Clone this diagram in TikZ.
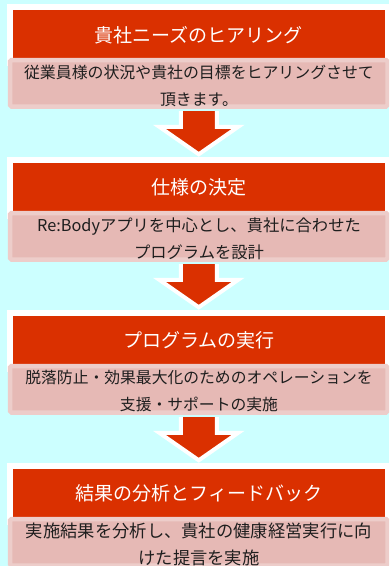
\documentclass[tikz,border=0pt]{standalone}
\usepackage{fontspec}
\newfontfamily\jp{Noto Sans CJK JP}
\usetikzlibrary{calc}
\definecolor{bgc}{RGB}{204,255,255}
\definecolor{hred}{RGB}{218,48,0}
\definecolor{pinkin}{RGB}{230,185,181}
\definecolor{pinkout}{RGB}{237,205,202}
\definecolor{txt}{RGB}{30,30,30}
\begin{document}
\begin{tikzpicture}[x=1pt,y=-1pt,
  header/.style={rectangle, fill=hred, draw=white, line width=5.5pt,
    minimum width=377.5pt, minimum height=56pt, inner sep=0pt,
    text=white, font=\jp\fontsize{19}{19}\selectfont},
  bodybox/.style={rectangle, fill=pinkin, draw=pinkout, line width=4.5pt,
    rounded corners=1.5pt, minimum width=377.5pt, minimum height=46.5pt, inner sep=0pt},
  bodytext/.style={align=center, inner sep=0pt, text=txt},
  arrowfill/.style={fill=hred},
  arrowline/.style={draw=white, line width=4pt, line join=miter, miter limit=10}]
\useasboundingbox (0,0) rectangle (389,566);
\clip (0,0) rectangle (389,566);
\fill[bgc] (0,0) rectangle (389,566);

% step 1 (top 4)
\node[header] (h1) at (198.75,34.75) {貴社ニーズのヒアリング};
\node[bodybox] (b1) at (198.75,83.25) {};
\node[bodytext, font=\jp\fontsize{15.9}{27}\selectfont] (t1) at (199,85.5)
  {従業員様の状況や貴社の目標をヒアリングさせて\\頂きます。};

% step 2 (top 157)
\node[header] (h2) at (198.75,187.75) {仕様の決定};
\node[bodybox] (b2) at (198.75,236.25) {};
\node[bodytext, font=\jp\fontsize{16.3}{27}\selectfont] (t2) at (199,238.5)
  {Re:Bodyアプリを中心とし、貴社に合わせた\\プログラムを設計};

% step 3 (top 310)
\node[header] (h3) at (198.75,340.75) {プログラムの実行};
\node[bodybox] (b3) at (198.75,389.25) {};
\node[bodytext, font=\jp\fontsize{15.8}{27}\selectfont] (t3) at (199,391.5)
  {脱落防止・効果最大化のためのオペレーションを\\支援・サポートの実施};

% step 4 (top 463)
\node[header] (h4) at (198.75,493.75) {結果の分析とフィードバック};
\node[bodybox] (b4) at (198.75,542.25) {};
\node[bodytext, font=\jp\fontsize{17.3}{27}\selectfont] (t4) at (199,544.5)
  {実施結果を分析し、貴社の健康経営実行に向\\けた提言を実施};

% block arrows
\foreach \a/\b in {b1/h2, b2/h3, b3/h4}{
  \fill[arrowfill] ($(\a.south)+(-18,2.3)$) -- ($(\a.south)+(-18,18)$)
    -- ($(\a.south)+(-39.5,18)$) -- ($(\b.north)+(0,-2.75)$)
    -- ($(\a.south)+(39.5,18)$) -- ($(\a.south)+(18,18)$)
    -- ($(\a.south)+(18,2.3)$) -- cycle;
  \draw[arrowline] ($(\a.south)+(-18,2.3)$) -- ($(\a.south)+(-18,18)$)
    -- ($(\a.south)+(-39.5,18)$) -- ($(\b.north)+(0,-2.75)$)
    -- ($(\a.south)+(39.5,18)$) -- ($(\a.south)+(18,18)$)
    -- ($(\a.south)+(18,2.3)$);
}
\end{tikzpicture}
\end{document}
